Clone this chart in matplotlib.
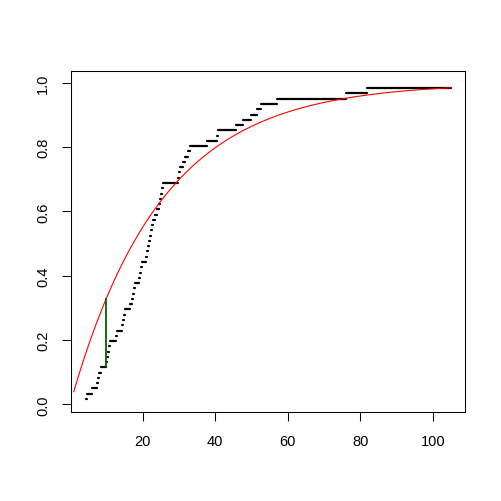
import numpy as np
import matplotlib
matplotlib.use("Agg")
import matplotlib.pyplot as plt

plt.rcParams['font.family'] = ['Liberation Sans', 'DejaVu Sans']

# start of each ECDF step (sorted sample)
step_start = [4.4, 4.6, 6.0, 7.3, 7.6, 7.9, 8.4, 10.0, 10.2, 10.4,
              10.7, 11.0, 12.6, 13.0, 14.3, 14.6, 14.9, 15.1, 16.6, 17.0,
              17.3, 17.5, 17.8, 19.0, 19.3, 19.6, 19.9, 21.0, 21.3, 21.5,
              21.7, 21.9, 22.2, 22.5, 22.8, 23.5, 24.1, 24.5, 24.8, 25.1,
              25.3, 25.5, 29.8, 30.1, 30.3, 31.2, 31.6, 32.6, 33.0, 37.7,
              40.5, 40.9, 45.8, 47.6, 50.0, 51.6, 52.6, 57.0, 76.2, 81.8]
last_x = 105.0
n_steps = len(step_start)

# fitted exponential (mean) and KS point
exp_mean = 25.0
ks_x = 10.0

starts = np.array(step_start)
ends = np.append(starts[1:], last_x)
heights = np.arange(1, n_steps + 1) / (n_steps + 1)

fig = plt.figure(figsize=(5.02, 5.02), dpi=100)
ax = fig.add_axes([0.1424, 0.1767, 0.7839, 0.6805])

# ECDF as horizontal steps
lc = ax.hlines(heights, starts, ends, colors="black", linewidth=1.6)
lc.set_capstyle("round")

# exponential CDF
xs = np.linspace(1, last_x, 300)
ax.plot(xs, 1 - np.exp(-xs / exp_mean), color="red", linewidth=0.8)

# KS distance
k = np.searchsorted(starts, ks_x)
ax.vlines(ks_x, heights[k - 1], 1 - np.exp(-ks_x / exp_mean),
          colors="darkgreen", linewidth=1.3)

ax.set_xlim(0.38, 108.9)
ax.set_ylim(-0.025, 1.038)
ax.set_xticks([20, 40, 60, 80, 100])
ax.set_yticks([0.0, 0.2, 0.4, 0.6, 0.8, 1.0])
ax.set_yticklabels(["0.0", "0.2", "0.4", "0.6", "0.8", "1.0"],
                   rotation=90, va="center")
ax.tick_params(direction="out", length=6.5, width=0.75, labelsize=10.5, pad=9)
for s in ax.spines.values():
    s.set_linewidth(0.75)

fig.savefig("out.png", dpi=100)
